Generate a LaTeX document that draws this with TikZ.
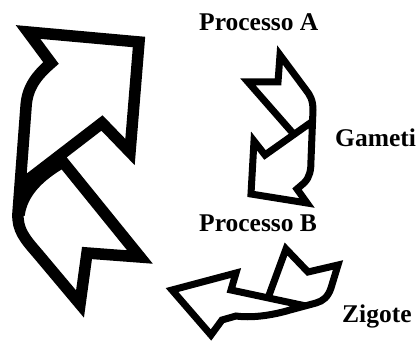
\documentclass[tikz,border=0pt]{standalone}
\usepackage{fontspec}
\setmainfont{Liberation Serif}
\begin{document}
\begin{tikzpicture}[x=1pt,y=-1pt,
  bigline/.style={line width=11.5pt,line join=miter,miter limit=10},
  smallline/.style={line width=7pt,line join=miter,miter limit=10},
  lbl/.style={anchor=base west,inner sep=0pt,font=\fontsize{25.5}{26}\selectfont\bfseries}]
\useasboundingbox (0,0) rectangle (418,342);
% big arrow (left)
\draw[bigline] (20,186) -- (102,123) -- (130,152) -- (139,42) -- (28,32) -- (51,63)
  .. controls (36,76) and (27,88) .. (26,107) -- (18,213)
  .. controls (17,230) and (25,239) .. (38,254) -- (80,304) -- (87,253) -- (140,257) -- (58.5,156.4);
\draw[bigline] (63,162) .. controls (40,175) and (22,192) .. (19,215);
% middle arrow
\draw[smallline] (313,121) -- (265,155) -- (254,141) -- (251,194) -- (307,203) -- (297,189)
  -- (304,183) .. controls (310,177) and (311,170) .. (311,160) -- (313,110)
  .. controls (313,100) and (310,95) .. (306,90) -- (280,55) -- (278,82) -- (248,82) -- (293.6,134);
% bottom arrow
\draw[smallline] (268,298) -- (286,249) -- (308,272) -- (338,265) -- (331,288)
  .. controls (328,297) and (323,301) .. (316,303) -- (290,310)
  .. controls (270,316) and (250,318) .. (236,316) -- (222,320) -- (211,335) -- (172,290)
  -- (236,273) -- (231,290) -- (306,306);
% labels
\node[lbl] (pa) at (199,31) {Processo A};
\node[lbl] (ga) at (335,147) {Gameti};
\node[lbl] (pb) at (199,232) {Processo B};
\node[lbl] (zi) at (342,322) {Zigote};
\end{tikzpicture}
\end{document}
